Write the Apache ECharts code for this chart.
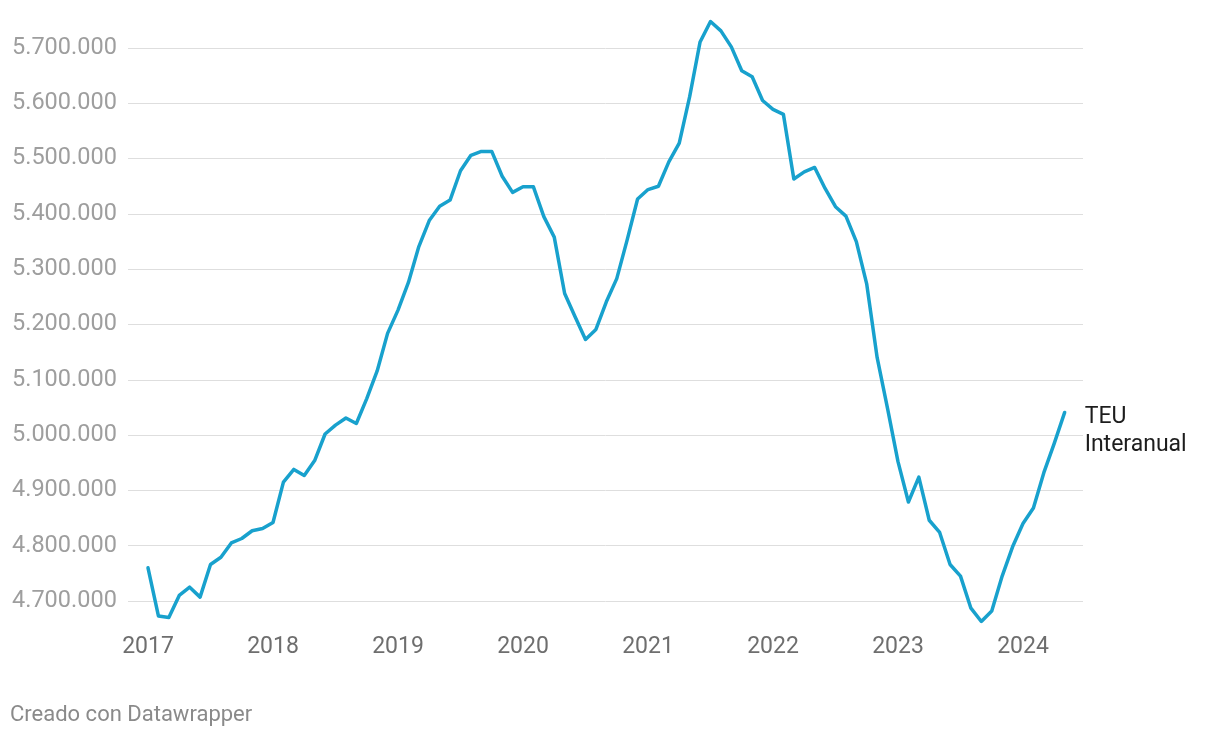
<!DOCTYPE html>
<html>
<head>
<meta charset="utf-8">
<script src="https://cdn.jsdelivr.net/npm/echarts@6/dist/echarts.min.js"></script>
<style>
  html, body { margin: 0; padding: 0; background: #ffffff; }
  #chart { width: 1220px; height: 738px; }
</style>
</head>
<body>
<div id="chart"></div>
<script>
// Monthly data, Jan 2017 .. May 2024 (TEU, rolling 12 months)
const startYear = 2017;
const teu2017 = [4760000, 4673000, 4670000, 4710000, 4725000, 4707000, 4766000, 4779000, 4805000, 4813000, 4827000, 4831000];
const teu2018 = [4842000, 4915000, 4938000, 4927000, 4954000, 5002000, 5018000, 5031000, 5021000, 5066000, 5116000, 5184000];
const teu2019 = [5226000, 5276000, 5341000, 5388000, 5414000, 5425000, 5478000, 5506000, 5513000, 5513000, 5468000, 5439000];
const teu2020 = [5449000, 5449000, 5395000, 5358000, 5256000, 5214000, 5173000, 5191000, 5241000, 5283000, 5353000, 5427000];
const teu2021 = [5444000, 5450000, 5494000, 5528000, 5612000, 5711000, 5748000, 5731000, 5702000, 5659000, 5648000, 5605000];
const teu2022 = [5589000, 5580000, 5463000, 5476000, 5484000, 5446000, 5413000, 5396000, 5350000, 5273000, 5140000, 5048000];
const teu2023 = [4952000, 4879000, 4924000, 4846000, 4824000, 4766000, 4745000, 4687000, 4663000, 4682000, 4745000, 4798000];
const teu2024 = [4840000, 4868000, 4932000, 4985000, 5041000];

const seriesName = 'TEU\nInteranual';
const yTicks = [4700000, 4800000, 4900000, 5000000, 5100000, 5200000, 5300000, 5400000, 5500000, 5600000, 5700000];
const xTickYears = [2017, 2018, 2019, 2020, 2021, 2022, 2023, 2024];
const footerText = 'Creado con Datawrapper';

const allValues = [].concat(teu2017, teu2018, teu2019, teu2020, teu2021, teu2022, teu2023, teu2024);
const seriesData = allValues.map((v, i) => [i, v]);
const xTickValues = xTickYears.map(y => (y - startYear) * 12);

function fmt(v) {
  return String(Math.round(v)).replace(/\B(?=(\d{3})+(?!\d))/g, '.');
}

const chart = echarts.init(document.getElementById('chart'), null, { renderer: 'canvas' });
const FONT = 'Roboto, "Noto Sans", sans-serif';

chart.setOption({
  animation: false,
  backgroundColor: '#ffffff',
  grid: { left: 128, width: 955, top: 10, height: 620, containLabel: false },
  xAxis: {
    type: 'value',
    min: -1.92,
    max: 89.76,
    axisLine: { show: false },
    axisTick: { show: false, customValues: xTickValues },
    splitLine: { show: false },
    axisLabel: {
      customValues: xTickValues,
      formatter: v => String(startYear + Math.round(v / 12)),
      color: '#6e6e6e',
      fontFamily: FONT,
      fontSize: 23,
      margin: 6
    }
  },
  yAxis: {
    type: 'value',
    min: 4647560,
    max: 5768720,
    axisLine: { show: false },
    axisTick: { show: false, customValues: yTicks },
    splitLine: { show: true, lineStyle: { color: '#dedede', width: 1 } },
    axisLabel: {
      customValues: yTicks,
      formatter: v => fmt(v),
      align: 'left',
      margin: 116,
      color: '#9e9e9e',
      fontFamily: FONT,
      fontSize: 23.5
    }
  },
  series: [{
    name: seriesName,
    type: 'line',
    data: seriesData,
    showSymbol: false,
    symbol: 'none',
    lineStyle: { color: '#18a1cd', width: 3.5, join: 'round', cap: 'round' },
    itemStyle: { color: '#18a1cd' },
    endLabel: {
      show: true,
      formatter: seriesName,
      color: '#1d1d1d',
      fontFamily: FONT,
      fontSize: 23,
      lineHeight: 28,
      align: 'left',
      offset: [12, 19]
    }
  }],
  graphic: [{
    type: 'text',
    left: 10,
    top: 704,
    style: {
      text: footerText,
      fill: '#8a8a8a',
      font: '22px ' + FONT
    }
  }]
});
</script>
</body>
</html>
